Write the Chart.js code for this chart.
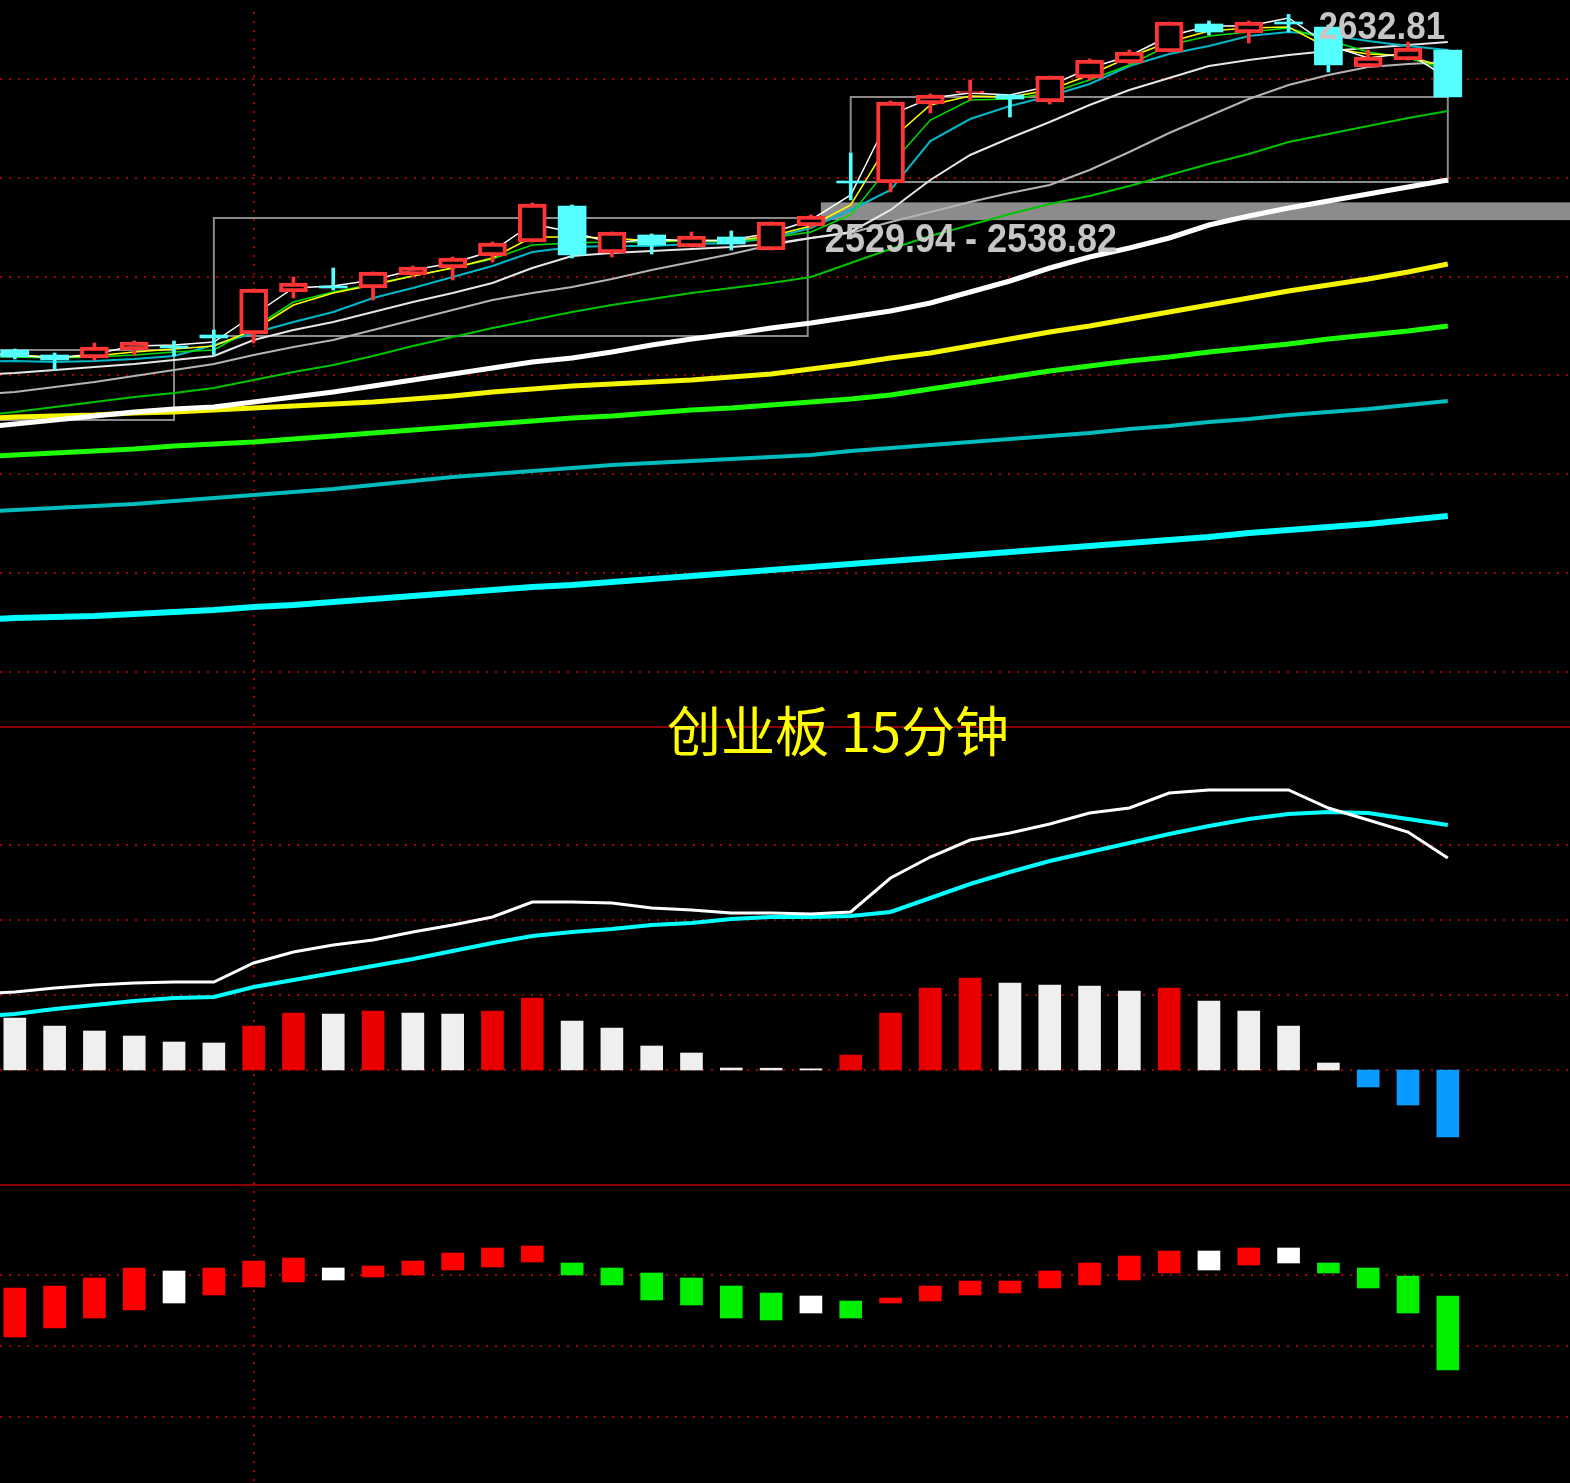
<!DOCTYPE html>
<html><head><meta charset="utf-8">
<script src="https://cdn.jsdelivr.net/npm/chart.js@4.4.0/dist/chart.umd.min.js"></script>
<style>html,body{margin:0;padding:0;background:#000;overflow:hidden}canvas{display:block}</style>
</head><body>
<canvas id="c" width="1570" height="1483"></canvas>
<script>
// ---------- data ----------
const title = '创业板 15分钟';
// candle bars (index 0..36)
const open  = [2465,2462.5,2461,2465,2466.5,2472.5,2473,2494,2497,2496,2502.5,2506,2512,2519,2537,2513.5,2522.5,2516.5,2521.5,2515,2527,2549,2548.5,2588,2593.5,2592.5,2589,2601,2608.5,2614,2628,2623.5,2628.5,2626.5,2606.5,2610,2615];
const high  = [2465.5,2463.5,2468.5,2469.5,2469.5,2475,2495.5,2501.5,2506,2504,2507,2511.5,2519,2538.5,2537.5,2524,2523,2524,2524.5,2529,2532.5,2563.5,2589.5,2593,2600,2592.5,2602,2610.5,2615,2629,2629.5,2629.5,2632.81,2627.5,2615,2619,2615];
const low   = [2460.5,2455,2460,2462.5,2462,2462.5,2468.5,2491,2495,2490,2501.5,2500,2509,2519,2511,2511.5,2513,2516.5,2515,2515,2526,2540,2544,2583.5,2590,2581.5,2588,2600,2608,2614,2622.5,2618.5,2624,2604,2606.5,2610,2591.5];
const close = [2461.5,2460,2466.5,2469,2466,2471,2495.5,2498.5,2496,2504,2506.5,2511,2518.5,2538,2512.5,2524,2517.5,2522,2518,2529,2532,2548.5,2589,2592.5,2594,2590.5,2602,2610,2614,2629,2624,2629,2628,2607.5,2611.5,2616,2591.5];
// moving averages (index -1..36)
const maW1 = [2464,2462.5,2461,2463,2467,2467.5,2469,2482.5,2496,2497,2500,2505,2508.5,2514.5,2528,2524,2518.5,2520.5,2519.5,2520,2523.5,2530,2542.5,2582.5,2591,2593.5,2592.5,2597,2606,2612,2622,2627,2627,2631,2617.5,2611,2613.5,2601];
const maY1 = [2463,2462.5,2461.5,2462,2464,2465.5,2467,2475,2487.5,2493.5,2497.5,2502,2506,2511,2521.5,2521.5,2521,2519.5,2520,2519.5,2522,2527,2537.5,2570,2587.5,2592,2591.5,2595,2602.5,2611.5,2619,2624.5,2626,2626.5,2616,2613,2612,2606];
const maG1 = [2462,2461.5,2461,2461.5,2462.5,2464,2465,2476,2489,2494,2498,2502,2506,2510.5,2517.5,2518.5,2519,2519,2519.5,2519,2521,2524,2532.5,2557.5,2580,2590,2590.5,2593.5,2600,2607.5,2617.5,2622,2624,2626,2620,2614,2611,2605];
const maT1 = [2459,2459.5,2459,2459.5,2460.5,2462,2467.5,2473.5,2479,2484,2491,2496,2501.5,2507,2514,2516.5,2517,2517,2518,2518.5,2521,2526,2535,2545,2569.5,2580.5,2587,2592,2598,2607,2613,2617,2622,2624,2622.5,2619.5,2617,2615];
const maW2 = [2452.5,2453.5,2455,2456.5,2458,2460,2462,2470,2475,2479,2484,2489,2493.5,2498.5,2506,2512,2513.5,2514.5,2515.5,2516.5,2518,2521,2524,2535,2550,2562.5,2571,2579,2587.5,2595,2601,2607,2610,2612.5,2614.5,2616,2617.5,2619];
const maW3 = [2442.5,2444,2446.5,2449,2452,2455,2458,2462.5,2466.5,2470,2475,2480,2485,2490,2493.5,2496.5,2500.5,2505,2509,2513,2517.5,2521,2523.5,2529,2534,2539,2543.5,2547.5,2555,2564,2573.5,2582,2590.5,2597.5,2602.5,2606.5,2608,2609];
const maG2 = [2432,2434,2436.5,2439,2441.5,2443.5,2446,2450,2454,2457.5,2462,2467,2471.5,2476,2480,2484,2487.5,2490.5,2493.5,2496,2498.5,2501.5,2508.5,2515.5,2522,2527.5,2533,2538,2542,2547,2552.5,2558,2563,2569,2573,2577,2581,2584.5];
const maWT = [2426,2428,2430,2432,2434,2435.5,2436.5,2439,2441.5,2444,2447,2450,2453,2456,2459,2461,2464,2467.5,2470.5,2473,2476,2478.5,2481.5,2484.5,2488.5,2494,2499.5,2506,2511.5,2516,2521,2527.5,2532,2536,2539.5,2543,2546.5,2550];
const maYT = [2430.5,2431.5,2432,2432.5,2433.5,2434,2435,2436,2437,2438,2439,2440.5,2442,2444,2445.5,2447,2448,2449,2450,2451.5,2453,2455.5,2458,2461,2463.5,2467,2470.5,2474,2477,2480.5,2484,2487.5,2491,2494.5,2497.5,2500.5,2504,2508];
const maGT = [2411.5,2412.5,2413.5,2414.5,2415.5,2417,2418,2419,2420.5,2422,2423.5,2425,2426.5,2428,2429.5,2431,2432,2433.5,2435,2436,2437.5,2439,2440.5,2442.5,2445.5,2448.5,2451.5,2454.5,2457,2459.5,2461.5,2464,2466,2468,2470.5,2472.5,2474.5,2477];
const maTT = [2384,2385,2386,2387,2388,2389.5,2391,2392.5,2394,2395.5,2397.5,2399.5,2401.5,2403,2404.5,2406,2407.5,2408.5,2409.5,2410.5,2411.5,2412.5,2414.5,2416,2417.5,2419,2420.5,2422,2423.5,2425.5,2427,2429,2430.5,2432.5,2434,2435.5,2437.5,2439.5];
const maCT = [2330,2331,2331.5,2332,2333,2334,2335,2336.5,2337.5,2339,2340.5,2342,2343.5,2345,2346.5,2347.5,2349,2350.5,2352,2353.5,2355,2356.5,2358,2359.5,2361,2362.5,2364,2365.5,2367,2368.5,2370,2371.5,2373.5,2375,2376.5,2378,2380,2382];
// MACD (lines index -1..36, histogram 0..36)
const macdDif = [7.6,7.8,8.2,8.5,8.7,8.8,8.8,10.7,11.8,12.5,13.0,13.8,14.5,15.3,16.8,16.8,16.7,16.2,16.0,15.7,15.7,15.6,15.8,19.2,21.3,23.0,23.7,24.6,25.7,26.2,27.7,28.0,28.0,28.0,26.2,25.0,23.8,21.2];
const macdDea = [5.3,5.6,6.1,6.5,6.9,7.2,7.3,8.3,9.0,9.7,10.4,11.1,11.9,12.7,13.4,13.8,14.1,14.5,14.7,15.1,15.3,15.3,15.4,15.8,17.2,18.6,19.8,20.9,21.8,22.7,23.6,24.4,25.1,25.6,25.8,25.7,25.1,24.5];
const macdHist = [5.2,4.4,3.9,3.4,2.8,2.7,4.4,5.7,5.6,5.9,5.7,5.6,5.9,7.2,4.9,4.2,2.4,1.7,0.2,0.18,0.12,1.5,5.7,8.2,9.2,8.7,8.5,8.4,7.9,8.2,6.9,5.9,4.4,0.7,-1.7,-3.5,-6.7];
// lower oscillator floating bars (index 0..36)
const oscLow  = [0.9,1.8,2.8,3.6,4.3,5.1,5.9,6.4,6.6,6.9,7.1,7.6,7.9,8.4,7.1,6.1,4.6,4.1,2.8,2.6,3.3,2.8,4.3,4.5,5.1,5.3,5.8,6.1,6.6,7.3,7.6,8.1,8.3,7.3,5.8,3.3,-2.4];
const oscHigh = [5.8,6.0,6.8,7.8,7.5,7.8,8.5,8.8,7.8,8.0,8.5,9.3,9.8,10.0,8.3,7.8,7.3,6.8,6.0,5.3,5.0,4.5,4.8,6.0,6.5,6.5,7.5,8.3,9.0,9.5,9.5,9.8,9.8,8.3,7.8,7.0,5.0];
const oscState = ['up','up','up','up','flat','up','up','up','flat','up','up','up','up','up','down','down','down','down','down','down','flat','down','up','up','up','up','up','up','up','up','flat','up','flat','down','down','down','down'];
// grid levels and annotations
const priceGrid = [2600.5,2551.1,2501.7,2452.3,2402.9,2353.5,2304.1];
const macdGrid = [22.5,15,7.5,0];
const oscGrid = [7.1,0,-7.1];
const vGridAt = [6];
const priceSep = 2276.5, macdSep = -11.5;
const boxFrom = [-1,5,21], boxTo = [4,19.92,36], boxLow = [2430,2472,2549], boxHigh = [2465,2531,2591.5];
const bandLow = 2529.94, bandHigh = 2538.82, bandFrom = 20.25;

// ---------- build ----------
const idx = open.map((_, i) => i);
const maX = [-1, ...idx];
const RED = '#ff3434', CYAN = '#55ffff';
const up = idx.map(i => close[i] >= open[i]);

function maLine(vals, color, width, order) {
  return {type:'line', data: maX.map((x,k)=>({x, y: vals[k]})), borderColor: color, borderWidth: width,
          pointRadius:0, tension:0, fill:false, yAxisID:'yP', order};
}
const histColor = macdHist.map((v,i) => v < 0 ? '#0a9bff' : (i > 0 && v > macdHist[i-1] ? '#e80000' : '#efefef'));
const oscColor = oscState.map(s => s === 'up' ? '#ff0000' : s === 'down' ? '#00f000' : '#ffffff');

const W = 1570, H = 1483;
function stretchedText(c, txt, x, y, sy) {
  c.save(); c.translate(x, y); c.scale(1, sy); c.fillText(txt, 0, 0); c.restore();
}
const decor = {
  id: 'decor',
  beforeDraw(chart) {
    const c = chart.ctx; c.save(); c.fillStyle = '#000'; c.fillRect(0,0,W,H); c.restore();
  },
  beforeDatasetsDraw(chart) {
    const c = chart.ctx, s = chart.scales;
    c.save();
    const hline = y => { c.beginPath(); c.moveTo(0, y); c.lineTo(W, y); c.stroke(); };
    c.strokeStyle = '#a80000'; c.lineWidth = 2; c.setLineDash([2,7]);
    priceGrid.forEach(v => hline(Math.round(s.yP.getPixelForValue(v))));
    macdGrid.forEach(v => hline(Math.round(s.yM.getPixelForValue(v))));
    oscGrid.forEach(v => hline(Math.round(s.yB.getPixelForValue(v))));
    vGridAt.forEach(v => { const x = Math.round(s.x.getPixelForValue(v)); c.beginPath(); c.moveTo(x, 12); c.lineTo(x, H); c.stroke(); });
    c.setLineDash([]);
    c.strokeStyle = '#b80000'; c.lineWidth = 1.5;
    hline(s.yP.getPixelForValue(priceSep));
    hline(s.yM.getPixelForValue(macdSep));
    // range boxes
    c.strokeStyle = '#8a8a8a'; c.lineWidth = 2;
    boxFrom.forEach((f, k) => {
      const x1 = s.x.getPixelForValue(f), x2 = s.x.getPixelForValue(boxTo[k]);
      const y1 = s.yP.getPixelForValue(boxHigh[k]), y2 = s.yP.getPixelForValue(boxLow[k]);
      c.strokeRect(x1, y1, x2 - x1, y2 - y1);
    });
    // price band
    const bx = s.x.getPixelForValue(bandFrom);
    const by1 = s.yP.getPixelForValue(bandHigh), by2 = s.yP.getPixelForValue(bandLow);
    c.fillStyle = '#8c8c8c';
    c.fillRect(bx, by1, W - bx, by2 - by1);
    c.restore();
  },
  afterDatasetsDraw(chart) {
    const c = chart.ctx, s = chart.scales;
    c.save();
    // highest price label
    let hi = 0; high.forEach((h,i) => { if (h > high[hi]) hi = i; });
    c.font = 'bold 35px "Liberation Sans", Arial, sans-serif';
    c.fillStyle = '#c6c6c6'; c.textBaseline = 'middle'; c.textAlign = 'left';
    stretchedText(c, high[hi].toFixed(2), s.x.getPixelForValue(hi) + 30, s.yP.getPixelForValue(high[hi]) + 14, 1.12);
    // band label
    const bx = s.x.getPixelForValue(bandFrom);
    c.font = 'bold 36px "Liberation Sans", Arial, sans-serif';
    stretchedText(c, bandLow.toFixed(2) + ' - ' + bandHigh.toFixed(2), bx + 4, s.yP.getPixelForValue(bandLow) + 21, 1.12);
    // title
    c.font = '54px "Noto Sans CJK SC", sans-serif';
    c.fillStyle = '#ffff00'; c.textAlign = 'center';
    c.fillText(title, 838, 731);
    c.restore();
  }
};

new Chart(document.getElementById('c'), {
  type: 'bar',
  data: {
    datasets: [
      {type:'bar', data: idx.map(i => ({x:i, y:[open[i], close[i]]})),
       backgroundColor: idx.map(i => up[i] ? '#000000' : CYAN),
       borderColor: idx.map(i => up[i] ? RED : CYAN),
       borderWidth: idx.map(i => up[i] ? 4 : 0),
       borderSkipped: false, barThickness: 28, minBarLength: 2, grouped: false, yAxisID: 'yP', order: 1},
      {type:'bar', data: idx.map(i => ({x:i, y:[low[i], high[i]]})),
       backgroundColor: idx.map(i => up[i] ? RED : CYAN),
       borderWidth: 0, barThickness: 3, grouped: false, yAxisID: 'yP', order: 2},
      maLine(maW1, '#ffffff', 1.5, 3),
      maLine(maY1, '#ffff00', 1.5, 3),
      maLine(maG1, '#00e000', 1.5, 3),
      maLine(maT1, '#00b8c8', 2, 3),
      maLine(maW2, '#e6e6e6', 2, 3),
      maLine(maW3, '#b4b4b4', 2, 3),
      maLine(maG2, '#00c400', 2, 3),
      maLine(maWT, '#ffffff', 5, 4),
      maLine(maYT, '#f5f500', 5, 5),
      maLine(maGT, '#1cff00', 5, 5),
      maLine(maTT, '#00bcbc', 4, 5),
      maLine(maCT, '#00ffff', 6, 5),
      {type:'line', data: maX.map((x,k)=>({x, y: macdDif[k]})), borderColor:'#ffffff', borderWidth:3, pointRadius:0, tension:0, yAxisID:'yM', order:1},
      {type:'line', data: maX.map((x,k)=>({x, y: macdDea[k]})), borderColor:'#00ffff', borderWidth:4, pointRadius:0, tension:0, yAxisID:'yM', order:1},
      {type:'bar', data: idx.map(i => ({x:i, y: macdHist[i]})), backgroundColor: histColor, borderWidth:0,
       barThickness: 22, grouped:false, yAxisID:'yM', order: 2},
      {type:'bar', data: idx.map(i => ({x:i, y:[oscLow[i], oscHigh[i]]})), backgroundColor: oscColor, borderWidth:0,
       barThickness: 22, grouped:false, yAxisID:'yB', order: 2}
    ]
  },
  options: {
    responsive: false, animation: false, events: [],
    layout: {padding: 0},
    plugins: {legend:{display:false}, tooltip:{enabled:false}, title:{display:false}},
    scales: {
      x:  {type:'linear', axis:'x', min:-0.372, max:39.07, display:false, offset:false, grid:{offset:false}},
      yP: {type:'linear', axis:'y', min:1898.5, max:2640, display:false, beginAtZero:false},
      yM: {type:'linear', axis:'y', min:-41.3, max:107, display:false, beginAtZero:false},
      yB: {type:'linear', axis:'y', min:-13.7, max:134.6, display:false, beginAtZero:false}
    }
  },
  plugins: [decor]
});
</script>
</body></html>
